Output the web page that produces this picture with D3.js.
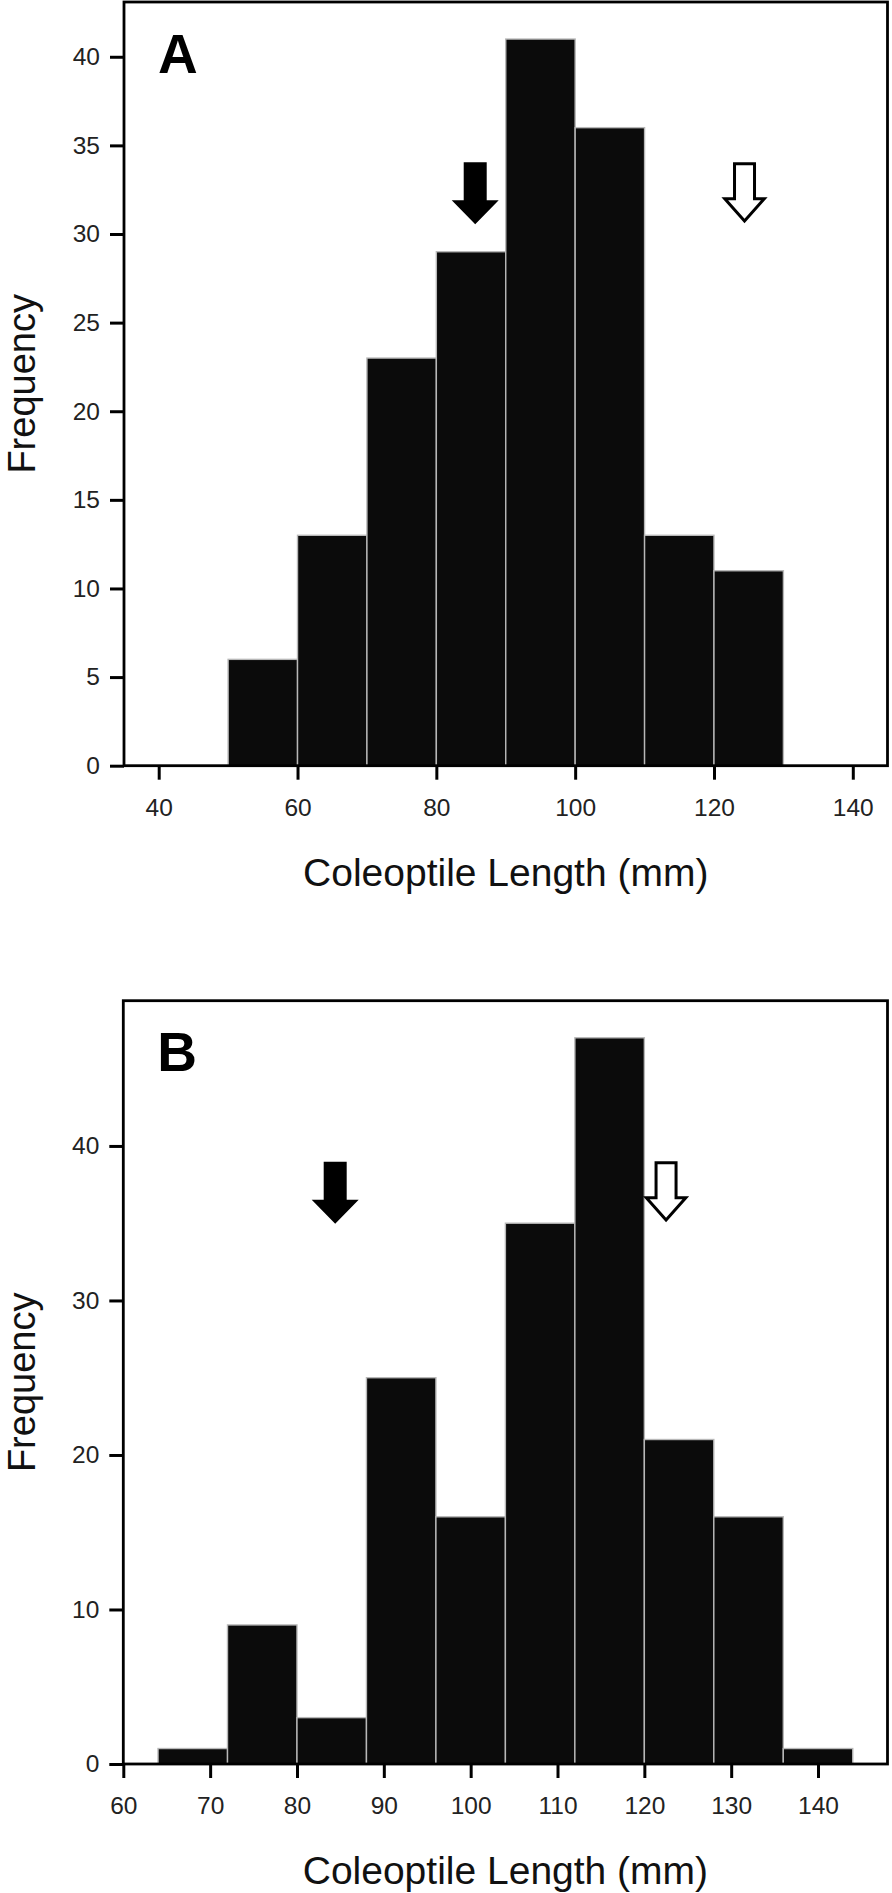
<!DOCTYPE html>
<html><head><meta charset="utf-8">
<script src="https://cdn.jsdelivr.net/npm/d3@7"></script>
<style>html,body{margin:0;padding:0;background:#fff;}svg{display:block;}</style>
</head><body>
<script>
// ---- Data ----
const binsA = [[50,60],[60,70],[70,80],[80,90],[90,100],[100,110],[110,120],[120,130]];
const countsA = [6,13,23,29,41,36,13,11];
const xTicksA = [40,60,80,100,120,140];
const yTicksA = [0,5,10,15,20,25,30,35,40];
const arrowsA = [{x:85.6, y:30.55, type:"filled"},{x:124.4, y:30.55, type:"open"}];

const binsB = [[64,72],[72,80],[80,88],[88,96],[96,104],[104,112],[112,120],[120,128],[128,136],[136,144]];
const countsB = [1,9,3,25,16,35,47,21,16,1];
const xTicksB = [60,70,80,90,100,110,120,130,140];
const yTicksB = [0,10,20,30,40];
const arrowsB = [{x:84.4, y:34.97, type:"filled"},{x:122.5, y:35.0, type:"open"}];

const xLabel = "Coleoptile Length (mm)";
const yLabel = "Frequency";

// ---- Drawing ----
const W = 892, H = 1893;
const svg = d3.select("body").append("svg").attr("width", W).attr("height", H);
const FONT = "'Liberation Sans', Arial, Helvetica, sans-serif";

function panel(opts){
  const {top, bottom, left, right, xDomain, yDomain, bins, counts, xTicks, yTicks, arrows, letter} = opts;
  const g = svg.append("g");
  const x = d3.scaleLinear().domain(xDomain).range([left, right]);
  const y = d3.scaleLinear().domain(yDomain).range([bottom, top]);

  // bars
  g.selectAll("rect.bar").data(bins.map((b,i)=>({b, c:counts[i]}))).enter()
    .append("rect").attr("class","bar")
    .attr("x", d=>x(d.b[0])).attr("width", d=>x(d.b[1])-x(d.b[0]))
    .attr("y", d=>y(d.c)).attr("height", d=>y(0)-y(d.c))
    .attr("fill","#0b0b0b").attr("stroke","#b8b8b8").attr("stroke-width",1.4);

  // arrows
  arrows.forEach(a=>{
    const tx = x(a.x), ty = y(a.y);
    const sw = 11.5, hw = 23.5, st = 62, hb = 24;
    const pts = [[tx-sw,ty-st],[tx+sw,ty-st],[tx+sw,ty-hb],[tx+hw,ty-hb],[tx,ty],[tx-hw,ty-hb],[tx-sw,ty-hb]];
    const path = "M" + pts.map(p=>p.join(",")).join("L") + "Z";
    if(a.type==="filled"){
      g.append("path").attr("d", path).attr("fill","#000");
    } else {
      const s = 1.5, sw2 = sw-s, hw2 = hw-2.5*s, st2 = st-s;
      const pts2 = [[tx-sw2,ty-st2],[tx+sw2,ty-st2],[tx+sw2,ty-hb-s],[tx+hw2,ty-hb-s],[tx,ty-2.2*s],[tx-hw2,ty-hb-s],[tx-sw2,ty-hb-s]];
      g.append("path").attr("d","M"+pts2.map(p=>p.join(",")).join("L")+"Z")
        .attr("fill","#fff").attr("stroke","#000").attr("stroke-width",3).attr("stroke-linejoin","miter");
    }
  });

  // axes
  const ax = g.append("g").attr("transform",`translate(0,${bottom})`)
    .call(d3.axisBottom(x).tickValues(xTicks).tickSize(14).tickPadding(19).tickFormat(d3.format("d")));
  const ay = g.append("g").attr("transform",`translate(${left},0)`)
    .call(d3.axisLeft(y).tickValues(yTicks).tickSize(14).tickPadding(10).tickFormat(d3.format("d")));
  [ax, ay].forEach(a=>{
    a.select(".domain").remove();
    a.selectAll(".tick line").attr("stroke","#000").attr("stroke-width",3);
    a.selectAll(".tick text").attr("fill","#222").style("font-family",FONT).style("font-size","24.5px");
  });

  // frame
  g.append("rect").attr("x",left).attr("y",top).attr("width",right-left).attr("height",bottom-top)
    .attr("fill","none").attr("stroke","#000").attr("stroke-width",2.8);

  // panel letter
  g.append("text").attr("x", left+34).attr("y", top+70.7).text(letter)
    .attr("fill","#000").style("font-family",FONT).style("font-weight","bold").style("font-size","55px");

  // axis titles
  g.append("text").attr("x",(left+right)/2).attr("y", bottom+120).attr("text-anchor","middle")
    .text(xLabel).attr("fill","#111").style("font-family",FONT).style("font-size","39px");
  g.append("text").attr("transform",`translate(35,${(top+bottom)/2}) rotate(-90)`).attr("text-anchor","middle")
    .text(yLabel).attr("fill","#111").style("font-family",FONT).style("font-size","38px");
}

panel({top:2, bottom:765.7, left:124, right:887.5, xDomain:[35,145], yDomain:[0,43.09],
  bins:binsA, counts:countsA, xTicks:xTicksA, yTicks:yTicksA, arrows:arrowsA, letter:"A"});
panel({top:1000.7, bottom:1764, left:123.3, right:887.5, xDomain:[60,148], yDomain:[0,49.4],
  bins:binsB, counts:countsB, xTicks:xTicksB, yTicks:yTicksB, arrows:arrowsB, letter:"B"});
</script>
</body></html>
